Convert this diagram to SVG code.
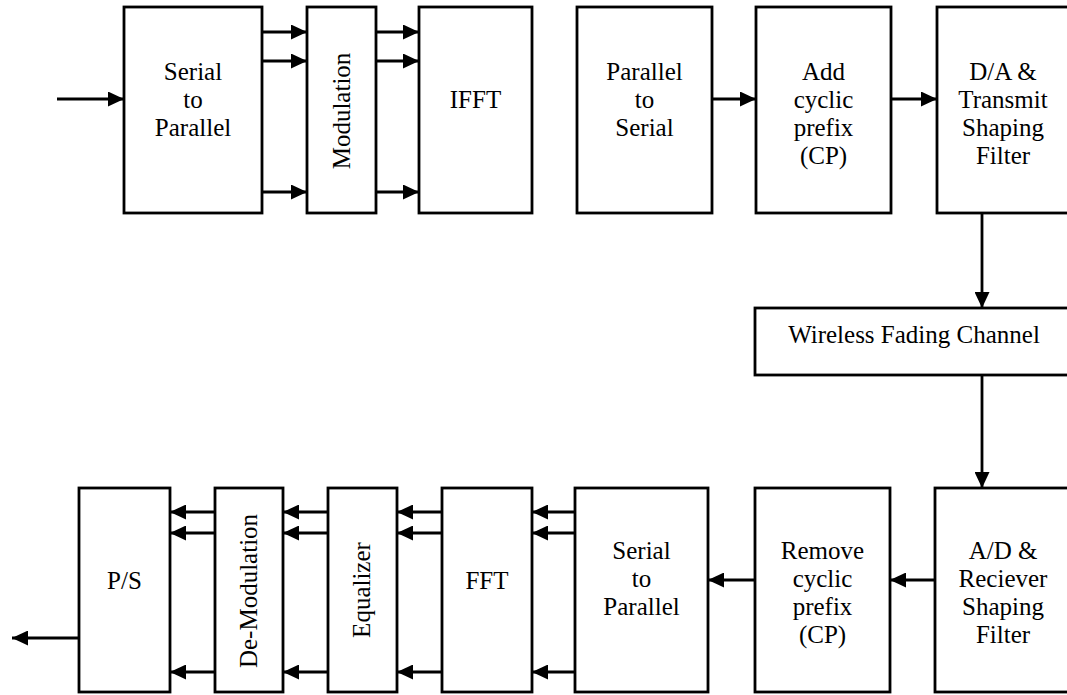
<svg xmlns="http://www.w3.org/2000/svg" width="1067" height="695" viewBox="0 0 1067 695">
<defs>
<marker id="ah" markerUnits="userSpaceOnUse" markerWidth="16" markerHeight="15" refX="16" refY="7.5" orient="auto">
<path d="M0,0 L16,7.5 L0,15 z" fill="#000"/>
</marker>
<style>
.box{fill:#fff;stroke:#000;stroke-width:2.8}
.t{font-family:"Liberation Serif","Times New Roman",serif;font-size:25px;fill:#000;text-anchor:middle}
.c{fill:none;stroke:#000;stroke-width:2.8;marker-end:url(#ah)}
</style>
</defs>
<rect width="1067" height="695" fill="#fff"/>
<g id="sp1"><rect class="box" x="124" y="7" width="138" height="206"/><text class="t" x="193" y="80">Serial</text><text class="t" x="193" y="108">to</text><text class="t" x="193" y="136">Parallel</text></g>
<g id="mod"><rect class="box" x="307" y="7" width="69" height="206"/><text class="t" transform="translate(350,111) rotate(-90)">Modulation</text></g>
<g id="ifft"><rect class="box" x="419" y="7" width="113" height="206"/><text class="t" x="475.5" y="108">IFFT</text></g>
<g id="ps1"><rect class="box" x="577" y="7" width="135" height="206"/><text class="t" x="644.5" y="80">Parallel</text><text class="t" x="644.5" y="108">to</text><text class="t" x="644.5" y="136">Serial</text></g>
<g id="addcp"><rect class="box" x="756" y="7" width="135" height="206"/><text class="t" x="823.5" y="80">Add</text><text class="t" x="823.5" y="108">cyclic</text><text class="t" x="823.5" y="136">prefix</text><text class="t" x="823.5" y="164">(CP)</text></g>
<g id="da"><rect class="box" x="937" y="7" width="135" height="206"/><text class="t" x="1003" y="80">D/A &amp;</text><text class="t" x="1003" y="108">Transmit</text><text class="t" x="1003" y="136">Shaping</text><text class="t" x="1003" y="164">Filter</text></g>
<g id="wfc"><rect class="box" x="755" y="308" width="317" height="67"/><text class="t" x="914" y="343">Wireless Fading Channel</text></g>
<g id="ad"><rect class="box" x="935" y="488" width="137" height="204"/><text class="t" x="1003" y="559">A/D &amp;</text><text class="t" x="1003" y="587">Reciever</text><text class="t" x="1003" y="615">Shaping</text><text class="t" x="1003" y="643">Filter</text></g>
<g id="rmcp"><rect class="box" x="755" y="488" width="135" height="204"/><text class="t" x="822.5" y="559">Remove</text><text class="t" x="822.5" y="587">cyclic</text><text class="t" x="822.5" y="615">prefix</text><text class="t" x="822.5" y="643">(CP)</text></g>
<g id="sp2"><rect class="box" x="575" y="488" width="133" height="204"/><text class="t" x="641.5" y="559">Serial</text><text class="t" x="641.5" y="587">to</text><text class="t" x="641.5" y="615">Parallel</text></g>
<g id="fft"><rect class="box" x="442" y="488" width="90" height="204"/><text class="t" x="487" y="589">FFT</text></g>
<g id="eq"><rect class="box" x="328" y="488" width="69" height="204"/><text class="t" transform="translate(370,590) rotate(-90)">Equalizer</text></g>
<g id="demod"><rect class="box" x="215" y="488" width="68" height="204"/><text class="t" transform="translate(257,591) rotate(-90)">De-Modulation</text></g>
<g id="ps2"><rect class="box" x="79" y="488" width="91" height="204"/><text class="t" x="124.5" y="589">P/S</text></g>
<g id="connectors">
<line class="c" x1="57" y1="99" x2="124" y2="99"/>
<line class="c" x1="262" y1="32" x2="307" y2="32"/>
<line class="c" x1="262" y1="61" x2="307" y2="61"/>
<line class="c" x1="262" y1="192" x2="307" y2="192"/>
<line class="c" x1="376" y1="32" x2="419" y2="32"/>
<line class="c" x1="376" y1="61" x2="419" y2="61"/>
<line class="c" x1="376" y1="192" x2="419" y2="192"/>
<line class="c" x1="712" y1="99" x2="756" y2="99"/>
<line class="c" x1="891" y1="99" x2="937" y2="99"/>
<line class="c" x1="982" y1="213" x2="982" y2="308"/>
<line class="c" x1="982" y1="375" x2="982" y2="488"/>
<line class="c" x1="935" y1="580" x2="890" y2="580"/>
<line class="c" x1="755" y1="580" x2="708" y2="580"/>
<line class="c" x1="575" y1="512" x2="532" y2="512"/>
<line class="c" x1="575" y1="533" x2="532" y2="533"/>
<line class="c" x1="575" y1="672" x2="532" y2="672"/>
<line class="c" x1="442" y1="512" x2="397" y2="512"/>
<line class="c" x1="442" y1="533" x2="397" y2="533"/>
<line class="c" x1="442" y1="672" x2="397" y2="672"/>
<line class="c" x1="328" y1="512" x2="283" y2="512"/>
<line class="c" x1="328" y1="533" x2="283" y2="533"/>
<line class="c" x1="328" y1="672" x2="283" y2="672"/>
<line class="c" x1="215" y1="512" x2="170" y2="512"/>
<line class="c" x1="215" y1="533" x2="170" y2="533"/>
<line class="c" x1="215" y1="672" x2="170" y2="672"/>
<line class="c" x1="79" y1="638" x2="12" y2="638"/>
</g>
</svg>
